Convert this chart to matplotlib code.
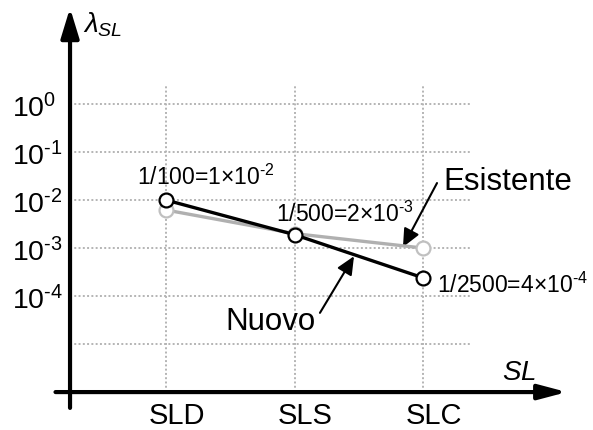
import matplotlib
matplotlib.use('Agg')
import matplotlib.pyplot as plt

plt.rcParams['font.family'] = ['Liberation Sans', 'DejaVu Sans']
plt.rcParams['mathtext.fontset'] = 'custom'
plt.rcParams['mathtext.rm'] = 'Liberation Sans'
plt.rcParams['mathtext.it'] = 'Liberation Sans:italic'

# dati
livelli = ['SLD', 'SLS', 'SLC']
nuovo = [1e-2, 1.9e-3, 2.4e-4]
esistente = [6.2e-3, 2.0e-3, 1.0e-3]
esponenti = [0, -1, -2, -3, -4]
etichette_punti = ['1/100=1×10$^{‐2}$', '1/500=2×10$^{‐3}$', '1/2500=4×10$^{‐4}$']


def potenza(k):
    # trattino corto come nell'originale
    return '10$^{%s}$' % (str(k).replace('-', '‐'))


fig = plt.figure(figsize=(5.93, 4.30), dpi=100)
ax = fig.add_axes([0, 0, 1, 1])
ax.set_yscale('log')
ax.set_xlim(-1.292, 3.323)
ax.set_ylim(10 ** -6.79, 10 ** 2.167)
ax.axis('off')

x = list(range(len(livelli)))
x_asse = -0.747

# griglia
grid_kw = dict(color='#b4b4b4', lw=1.4, linestyle=(0, (1, 1.2)), zorder=1)
ax.hlines([10.0 ** k for k in range(0, -6, -1)], x_asse, 2.37, **grid_kw)
ax.vlines(x, 1e-6, 10 ** 0.4, **grid_kw)

# assi con frecce
ax.annotate('', xy=(x_asse, 10 ** 2.0), xytext=(x_asse, 10 ** -6.33),
            arrowprops=dict(arrowstyle='-|>,head_length=1.8,head_width=0.55',
                            mutation_scale=10, lw=3, color='k', shrinkA=0, shrinkB=0), zorder=3)
ax.annotate('', xy=(3.12, 1e-6), xytext=(-0.86, 1e-6),
            arrowprops=dict(arrowstyle='-|>,head_length=1.7,head_width=0.45',
                            mutation_scale=10, lw=3, color='k', shrinkA=0, shrinkB=0), zorder=3)

# serie
ax.plot(x, esistente, color='#b0b0b0', lw=2.4, marker='o', ms=10,
        mfc='white', mec='#c0c0c0', mew=1.6, zorder=4)
ax.plot(x, nuovo, color='black', lw=2.4, marker='o', ms=10,
        mfc='white', mec='black', mew=1.6, zorder=5)

# etichette assi
for k in esponenti:
    ax.annotate(potenza(k), xy=(-1.198, 10.0 ** k), xytext=(0, -9.4),
                textcoords='offset points', ha='left', va='baseline', fontsize=20.5)
for xi, lab in zip(x, livelli):
    ax.text(xi + 0.085, 10 ** -6.656, lab, ha='center', va='baseline', fontsize=21)

ax.text(-0.646, 10 ** 1.5, r'$\lambda_{SL}$', ha='left', va='baseline', fontsize=20)
ax.text(2.615, 10 ** -5.75, '$SL$', ha='left', va='baseline', fontsize=20)

# etichette punti
ax.text(-0.226, 10 ** -1.69, etichette_punti[0], ha='left', va='baseline', fontsize=16.5)
ax.text(0.856, 10 ** -2.46, etichette_punti[1], ha='left', va='baseline', fontsize=16.5)
ax.text(2.109, 10 ** -3.94, etichette_punti[2], ha='left', va='baseline', fontsize=16.5)

# legende con frecce
freccia = dict(arrowstyle='-|>,head_length=1.1,head_width=0.5', mutation_scale=10,
               lw=1.5, color='k', shrinkA=0, shrinkB=0)
ax.text(2.156, 10 ** -1.79, 'Esistente', ha='left', va='baseline', fontsize=22.5)
ax.annotate('', xy=(1.844, 10 ** -2.98), xytext=(2.109, 10 ** -1.646), arrowprops=freccia)
ax.text(0.459, 10 ** -4.71, 'Nuovo', ha='left', va='baseline', fontsize=22.5)
ax.annotate('', xy=(1.463, 10 ** -3.17), xytext=(1.198, 10 ** -4.35), arrowprops=freccia)

fig.savefig('out.png', dpi=100)
